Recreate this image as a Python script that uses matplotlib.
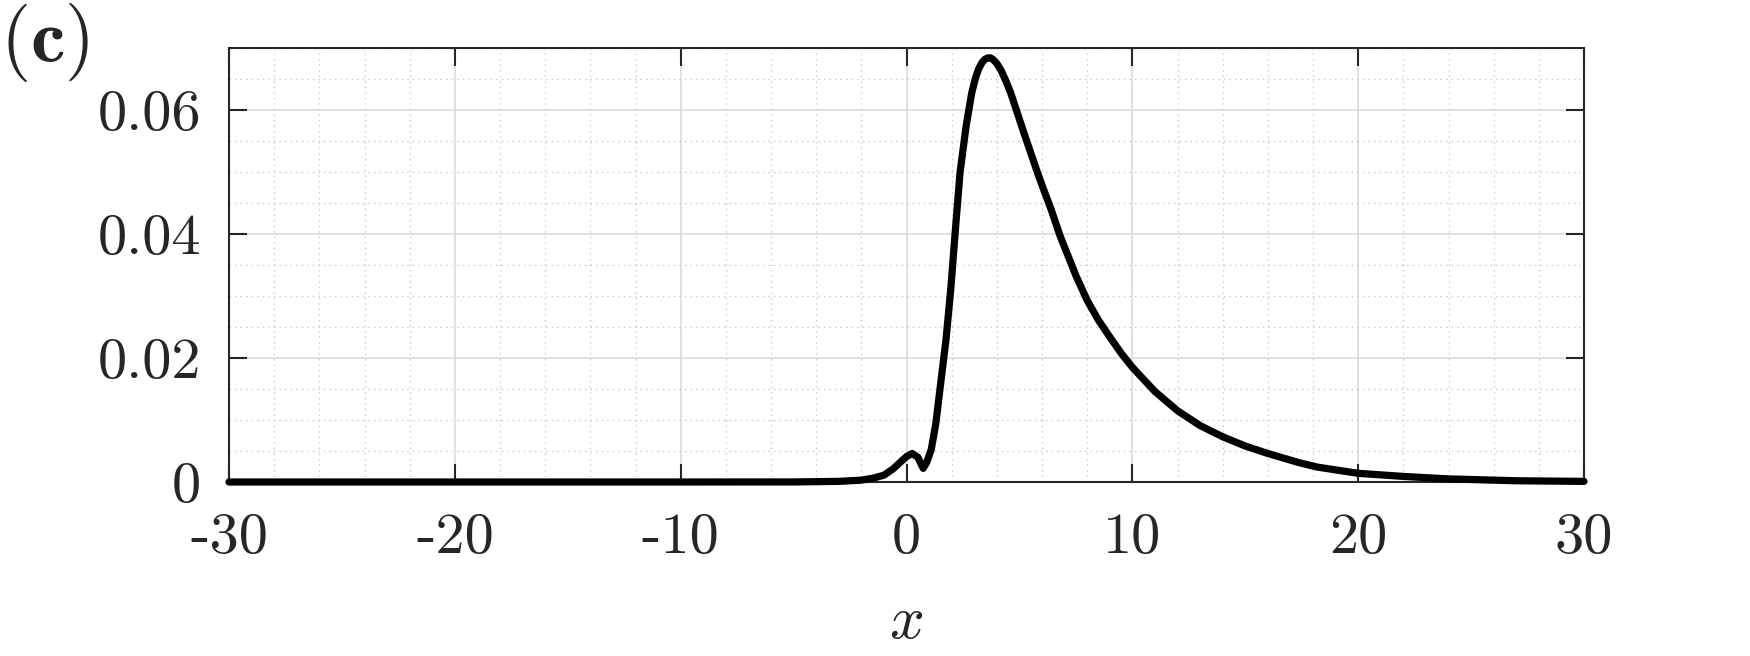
import numpy as np
import matplotlib
matplotlib.use("Agg")
import matplotlib.pyplot as plt
from matplotlib.ticker import MultipleLocator

plt.rcParams['mathtext.fontset'] = 'cm'
plt.rcParams['font.family'] = 'serif'
plt.rcParams['font.serif'] = ['cmr10']
plt.rcParams['axes.formatter.use_mathtext'] = True

# valori
x_vals = [-30, -20, -10, -5, -3, -2, -1.5, -1.0, -0.6, -0.3, 0, 0.25, 0.5, 0.74,
          0.9, 1.1, 1.3, 1.48, 1.75, 1.96, 2.15, 2.37, 2.64, 2.89, 3.05, 3.19,
          3.35, 3.48, 3.6, 3.72, 3.85, 4.0, 4.2, 4.4, 4.61, 4.9, 5.2, 5.5, 5.8,
          6.1, 6.4, 6.8, 7.5, 8, 8.5, 9, 9.5, 10, 11, 12, 13, 14, 15, 16,
          17.4, 18.2, 20, 22, 24, 27, 30]
y_vals = [0, 0, 0, 0.00001, 0.0001, 0.0003, 0.0006, 0.0011, 0.0021, 0.0031,
          0.0041, 0.0046, 0.0040, 0.0022, 0.0032, 0.0053, 0.0095, 0.0149,
          0.0230, 0.0311, 0.0400, 0.0499, 0.0574, 0.0628, 0.0651, 0.0666,
          0.0677, 0.0682, 0.0684, 0.0684, 0.0681, 0.0675, 0.0663, 0.0647,
          0.0628, 0.0596, 0.0563, 0.0531, 0.0499, 0.0469, 0.0440, 0.0397,
          0.0333, 0.0293, 0.0261, 0.0234, 0.0208, 0.0185, 0.0146, 0.0115,
          0.0091, 0.0073, 0.0058, 0.0046, 0.0031, 0.0024, 0.0014, 0.0009,
          0.0005, 0.0002, 0.0001]

xticks = [-30, -20, -10, 0, 10, 20, 30]
xticklabels = ['-30', '-20', '-10', '0', '10', '20', '30']
yticks = [0, 0.02, 0.04, 0.06]
yticklabels = ['0', '0.02', '0.04', '0.06']

dark = '#262626'

fig = plt.figure(figsize=(17.5, 6.56), dpi=100)
ax = fig.add_axes([229/1750, 1 - 482/656, (1584-229)/1750, (482-48)/656])

ax.plot(x_vals, y_vals, color='black', lw=5.2, solid_joinstyle='round',
        solid_capstyle='round', zorder=3, clip_on=False)

ax.set_xlim(-30, 30)
ax.set_ylim(0, 0.07)
ax.set_xticks(xticks)
ax.set_xticklabels(xticklabels)
ax.set_yticks(yticks)
ax.set_yticklabels(yticklabels)
ax.xaxis.set_minor_locator(MultipleLocator(2))
ax.yaxis.set_minor_locator(MultipleLocator(0.005))

ax.grid(which='major', color='#dcdcdc', lw=1.2, ls='-')
ax.grid(which='minor', color='#c8c8c8', lw=1.0, ls=(0, (1, 3)))
ax.set_axisbelow(True)

ax.tick_params(which='major', direction='in', length=13, width=1.5, color=dark,
               top=True, right=True, labelsize=42, labelcolor=dark)
ax.tick_params(axis='y', which='major', pad=20)
ax.tick_params(axis='x', which='major', pad=22)
ax.tick_params(which='minor', length=0, top=True, right=True)
for s in ax.spines.values():
    s.set_color(dark)
    s.set_linewidth(1.5)

ax.set_xlabel(r'$x$', fontsize=44, color=dark, labelpad=22)

fig.text(0.0, 0.998, r'$(\mathbf{c})$', fontsize=56, color=dark, ha='left', va='top')

fig.savefig('out.png', dpi=100)
